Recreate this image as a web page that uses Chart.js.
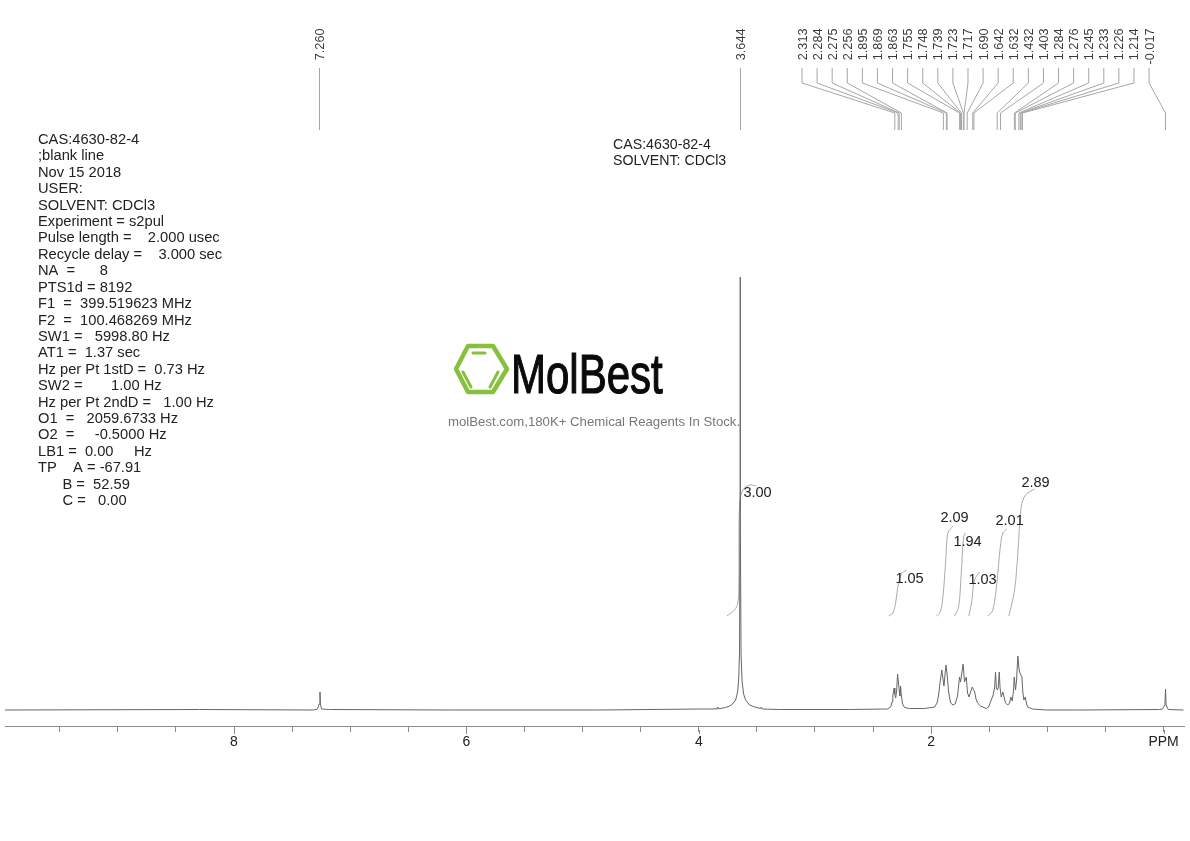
<!DOCTYPE html>
<html>
<head>
<meta charset="utf-8">
<title>NMR spectrum</title>
<script src="https://cdn.jsdelivr.net/npm/chart.js@4"></script>
<style>
  html, body { margin: 0; padding: 0; background: #fff; }
  canvas { display: block; }
</style>
</head>
<body>
<canvas id="spectrum" width="1190" height="841"></canvas>
<script>
// spectrum trace: chemical shift and height above baseline
const specPpm = [
  9.974, 8.296, 7.315, 7.281, 7.268, 7.26, 7.257, 7.246, 7.177, 6.145, 4.854, 3.993,
  3.89, 3.843, 3.837, 3.83, 3.769, 3.735, 3.709, 3.683, 3.666, 3.656, 3.649, 3.645, 3.644,
  3.642, 3.636, 3.627, 3.614, 3.597, 3.563, 3.52, 3.468, 3.461, 3.454, 3.305, 2.702, 2.401,
  2.375, 2.349, 2.337, 2.33, 2.319, 2.313, 2.306, 2.298, 2.289, 2.284, 2.275, 2.27, 2.263,
  2.256, 2.246, 2.229, 2.186, 2.057, 1.971, 1.949, 1.936, 1.923, 1.908, 1.89, 1.873, 1.863,
  1.85, 1.833, 1.811, 1.794, 1.773, 1.756, 1.747, 1.725, 1.713, 1.698, 1.687, 1.674, 1.661,
  1.646, 1.635, 1.627, 1.614, 1.601, 1.575, 1.526, 1.506, 1.483, 1.469, 1.454, 1.446, 1.439,
  1.431, 1.423, 1.414, 1.407, 1.397, 1.383, 1.36, 1.34, 1.325, 1.314, 1.302, 1.291, 1.285,
  1.274, 1.265, 1.254, 1.245, 1.239, 1.219, 1.211, 1.202, 1.19, 1.179, 1.168, 1.127, 1.009,
  0.723, 0.034, 0.009, -0.012, -0.017, -0.022, -0.04, -0.172
];
const specHeight = [
  0, 0.5, 0, 1, 6, 18, 6, 1, 0.5, 0, 0, 1,
  1, 1.2, 3, 1.2, 2.5, 4, 6, 10, 18, 32, 60, 200, 433,
  200, 55, 28, 16, 10, 5, 3, 1.5, 3, 1, 0.5, 0.5, 1,
  1, 3, 8, 14, 22, 16, 12, 18, 36, 30, 20, 14, 24,
  14, 6, 2.5, 1.5, 1.5, 3, 7, 15, 28, 40, 24, 45, 36,
  18, 7, 5, 6, 14, 33, 28, 46, 28, 33, 17, 13, 18,
  23, 20, 19, 11, 7, 4, 1.5, 3, 10, 14, 22, 38, 22,
  20, 22, 38, 22, 13, 18, 7, 5, 7, 13, 9, 20, 33,
  20, 30, 54, 42, 38, 33, 18, 10, 13, 6, 3, 1, 0,
  0, 0.5, 1, 5, 21, 5, 0.5, 0
];

// integral curves, high shift end first in each list
const integralPpm = [
  [3.758, 3.692, 3.664, 3.655, 3.649, 3.62, 3.563, 3.505],
  [2.367, 2.33, 2.306, 2.287, 2.257, 2.214],
  [1.956, 1.922, 1.899, 1.876, 1.856, 1.813],
  [1.799, 1.764, 1.741, 1.721, 1.704],
  [1.676, 1.652, 1.627, 1.583],
  [1.512, 1.469, 1.435, 1.405, 1.383, 1.349],
  [1.331, 1.282, 1.254, 1.225, 1.188, 1.11]
];
const integralHeight = [
  [94, 100, 107, 127, 207, 220, 225, 224],
  [94, 97, 107, 123, 136, 140],
  [94, 98, 113, 147, 177, 184],
  [94, 103, 137, 173, 177],
  [94, 107, 130, 138],
  [94, 100, 127, 163, 177, 181],
  [94, 120, 157, 203, 215, 221]
];
const integralLabels = ["3.00", "1.05", "2.09", "1.94", "1.03", "2.01", "2.89"];
const integralLabelPpm = [3.494, 2.186, 1.799, 1.687, 1.558, 1.325, 1.102];
const integralLabelHeight = [217, 131, 192, 168, 130, 189, 227];

// picked peaks
const straightPeaks = ["7.260", "3.644"];
const groupedPeaks = [
  "2.313", "2.284", "2.275", "2.256", "1.895", "1.869", "1.863", "1.755", "1.748", "1.739",
  "1.723", "1.717", "1.690", "1.642", "1.632", "1.432", "1.403", "1.284", "1.276", "1.245",
  "1.233", "1.226", "1.214", "-0.017"
];

const infoLines = [
  "CAS:4630-82-4",
  ";blank line",
  "Nov 15 2018",
  "USER:",
  "SOLVENT: CDCl3",
  "Experiment = s2pul",
  "Pulse length =    2.000 usec",
  "Recycle delay =    3.000 sec",
  "NA  =      8",
  "PTS1d = 8192",
  "F1  =  399.519623 MHz",
  "F2  =  100.468269 MHz",
  "SW1 =   5998.80 Hz",
  "AT1 =  1.37 sec",
  "Hz per Pt 1stD =  0.73 Hz",
  "SW2 =       1.00 Hz",
  "Hz per Pt 2ndD =   1.00 Hz",
  "O1  =   2059.6733 Hz",
  "O2  =     -0.5000 Hz",
  "LB1 =  0.00     Hz",
  "TP    A = -67.91",
  "      B =  52.59",
  "      C =   0.00"
];
const headerLines = ["CAS:4630-82-4", "SOLVENT: CDCl3"];

const FONT = '"Liberation Sans", Arial, sans-serif';
const LEADER = "#a6a6a6";

function drawLeaders(ctx, x) {
  ctx.strokeStyle = LEADER;
  ctx.lineWidth = 1;
  ctx.fillStyle = "#3a3a3a";
  ctx.font = "12.7px " + FONT;

  // labels hang from a common top edge, so the longer -0.017 runs further down
  const rotated = (text, px) => {
    ctx.save();
    ctx.translate(px + 4.5, 28.5);
    ctx.rotate(-Math.PI / 2);
    ctx.textAlign = "right";
    ctx.fillText(text, 0, 0);
    ctx.restore();
  };

  straightPeaks.forEach(p => {
    const px = Math.floor(x.getPixelForValue(parseFloat(p))) + 0.5;
    ctx.beginPath();
    ctx.moveTo(px, 68);
    ctx.lineTo(px, 130);
    ctx.stroke();
    rotated(p, px);
  });

  groupedPeaks.forEach((p, i) => {
    const slot = 802 + i * 15.09;
    const px = x.getPixelForValue(parseFloat(p));
    ctx.beginPath();
    ctx.moveTo(slot, 68);
    ctx.lineTo(slot, 83);
    ctx.lineTo(px, 113);
    ctx.lineTo(px, 130);
    ctx.stroke();
    rotated(p, slot);
  });
}

function drawLogo(ctx) {
  ctx.save();
  ctx.strokeStyle = "#86c03c";
  ctx.lineWidth = 4.5;
  ctx.lineJoin = "round";
  ctx.lineCap = "round";
  ctx.beginPath();
  ctx.moveTo(456, 369);
  ctx.lineTo(468, 346);
  ctx.lineTo(493, 346);
  ctx.lineTo(507, 369);
  ctx.lineTo(493, 392);
  ctx.lineTo(468, 392);
  ctx.closePath();
  ctx.stroke();
  ctx.lineWidth = 3;
  [[473, 353, 485, 353], [463, 372, 471, 387], [498, 372, 490, 387]].forEach(b => {
    ctx.beginPath();
    ctx.moveTo(b[0], b[1]);
    ctx.lineTo(b[2], b[3]);
    ctx.stroke();
  });

  ctx.fillStyle = "#0a0a0a";
  ctx.strokeStyle = "#0a0a0a";
  ctx.lineWidth = 1.2;
  ctx.lineJoin = "miter";
  ctx.font = "56px " + FONT;
  ctx.translate(511, 393);
  ctx.scale(0.75, 1);
  ctx.fillText("MolBest", 0, 0);
  ctx.strokeText("MolBest", 0, 0);
  ctx.restore();

  ctx.fillStyle = "#777";
  ctx.font = "13.2px " + FONT;
  ctx.fillText("molBest.com,180K+ Chemical Reagents In Stock.", 448, 426);
}

// everything that is not a trace: texts, leader lines, logo
const annotations = {
  id: "annotations",
  afterDraw(chart) {
    const ctx = chart.ctx;
    const x = chart.scales.x;
    const y = chart.scales.y;

    ctx.save();
    ctx.textBaseline = "alphabetic";
    ctx.textAlign = "left";

    // even numbers get a longer tick
    ctx.strokeStyle = "#8c8c8c";
    ctx.lineWidth = 1;
    x.ticks.forEach(t => {
      if (Math.abs(t.value) % 2 < 1e-6) {
        const px = Math.round(x.getPixelForValue(t.value)) + 0.5;
        ctx.beginPath();
        ctx.moveTo(px, 730);
        ctx.lineTo(px, 734);
        ctx.stroke();
      }
    });

    drawLeaders(ctx, x);
    drawLogo(ctx);

    ctx.fillStyle = "#222";
    ctx.font = "14.7px " + FONT;
    infoLines.forEach((line, i) => ctx.fillText(line, 38, 144 + i * 16.41));
    ctx.font = "14.2px " + FONT;
    headerLines.forEach((line, i) => ctx.fillText(line, 613, 149 + i * 16.41));

    ctx.font = "14.5px " + FONT;
    ctx.textAlign = "center";
    ctx.textBaseline = "middle";
    integralLabels.forEach((label, i) => {
      ctx.fillText(label, x.getPixelForValue(integralLabelPpm[i]), y.getPixelForValue(integralLabelHeight[i]));
    });
    ctx.restore();
  }
};

const toPoints = (xs, ys) => xs.map((v, i) => ({ x: v, y: ys[i] }));

const datasets = [{
  data: toPoints(specPpm, specHeight),
  borderColor: "#666",
  borderWidth: 1,
  pointRadius: 0,
  tension: 0
}];
integralPpm.forEach((xs, i) => {
  datasets.push({
    data: toPoints(xs, integralHeight[i]),
    borderColor: "#aaa",
    borderWidth: 1,
    pointRadius: 0,
    tension: 0.35
  });
});

new Chart(document.getElementById("spectrum").getContext("2d"), {
  type: "line",
  data: { datasets },
  plugins: [annotations],
  options: {
    responsive: false,
    animation: false,
    devicePixelRatio: 1,
    layout: { padding: { left: 5, right: 6, top: 0, bottom: 0 } },
    plugins: { legend: { display: false }, tooltip: { enabled: false } },
    scales: {
      x: {
        type: "linear",
        reverse: true,
        min: -0.176,
        max: 9.971,
        afterFit(scale) { scale.height = 115; },
        border: { color: "#8c8c8c" },
        grid: { drawOnChartArea: false, tickLength: 6, tickColor: "#8c8c8c" },
        ticks: {
          stepSize: 0.5,
          includeBounds: false,
          autoSkip: false,
          maxRotation: 0,
          padding: 2,
          color: "#222",
          font: { family: "Liberation Sans", size: 14 },
          callback(v) {
            if (v === 0) return "PPM";
            return v % 2 === 0 ? String(v) : "";
          }
        }
      },
      y: { display: false, min: -16, max: 710 }
    }
  }
});
</script>
</body>
</html>
